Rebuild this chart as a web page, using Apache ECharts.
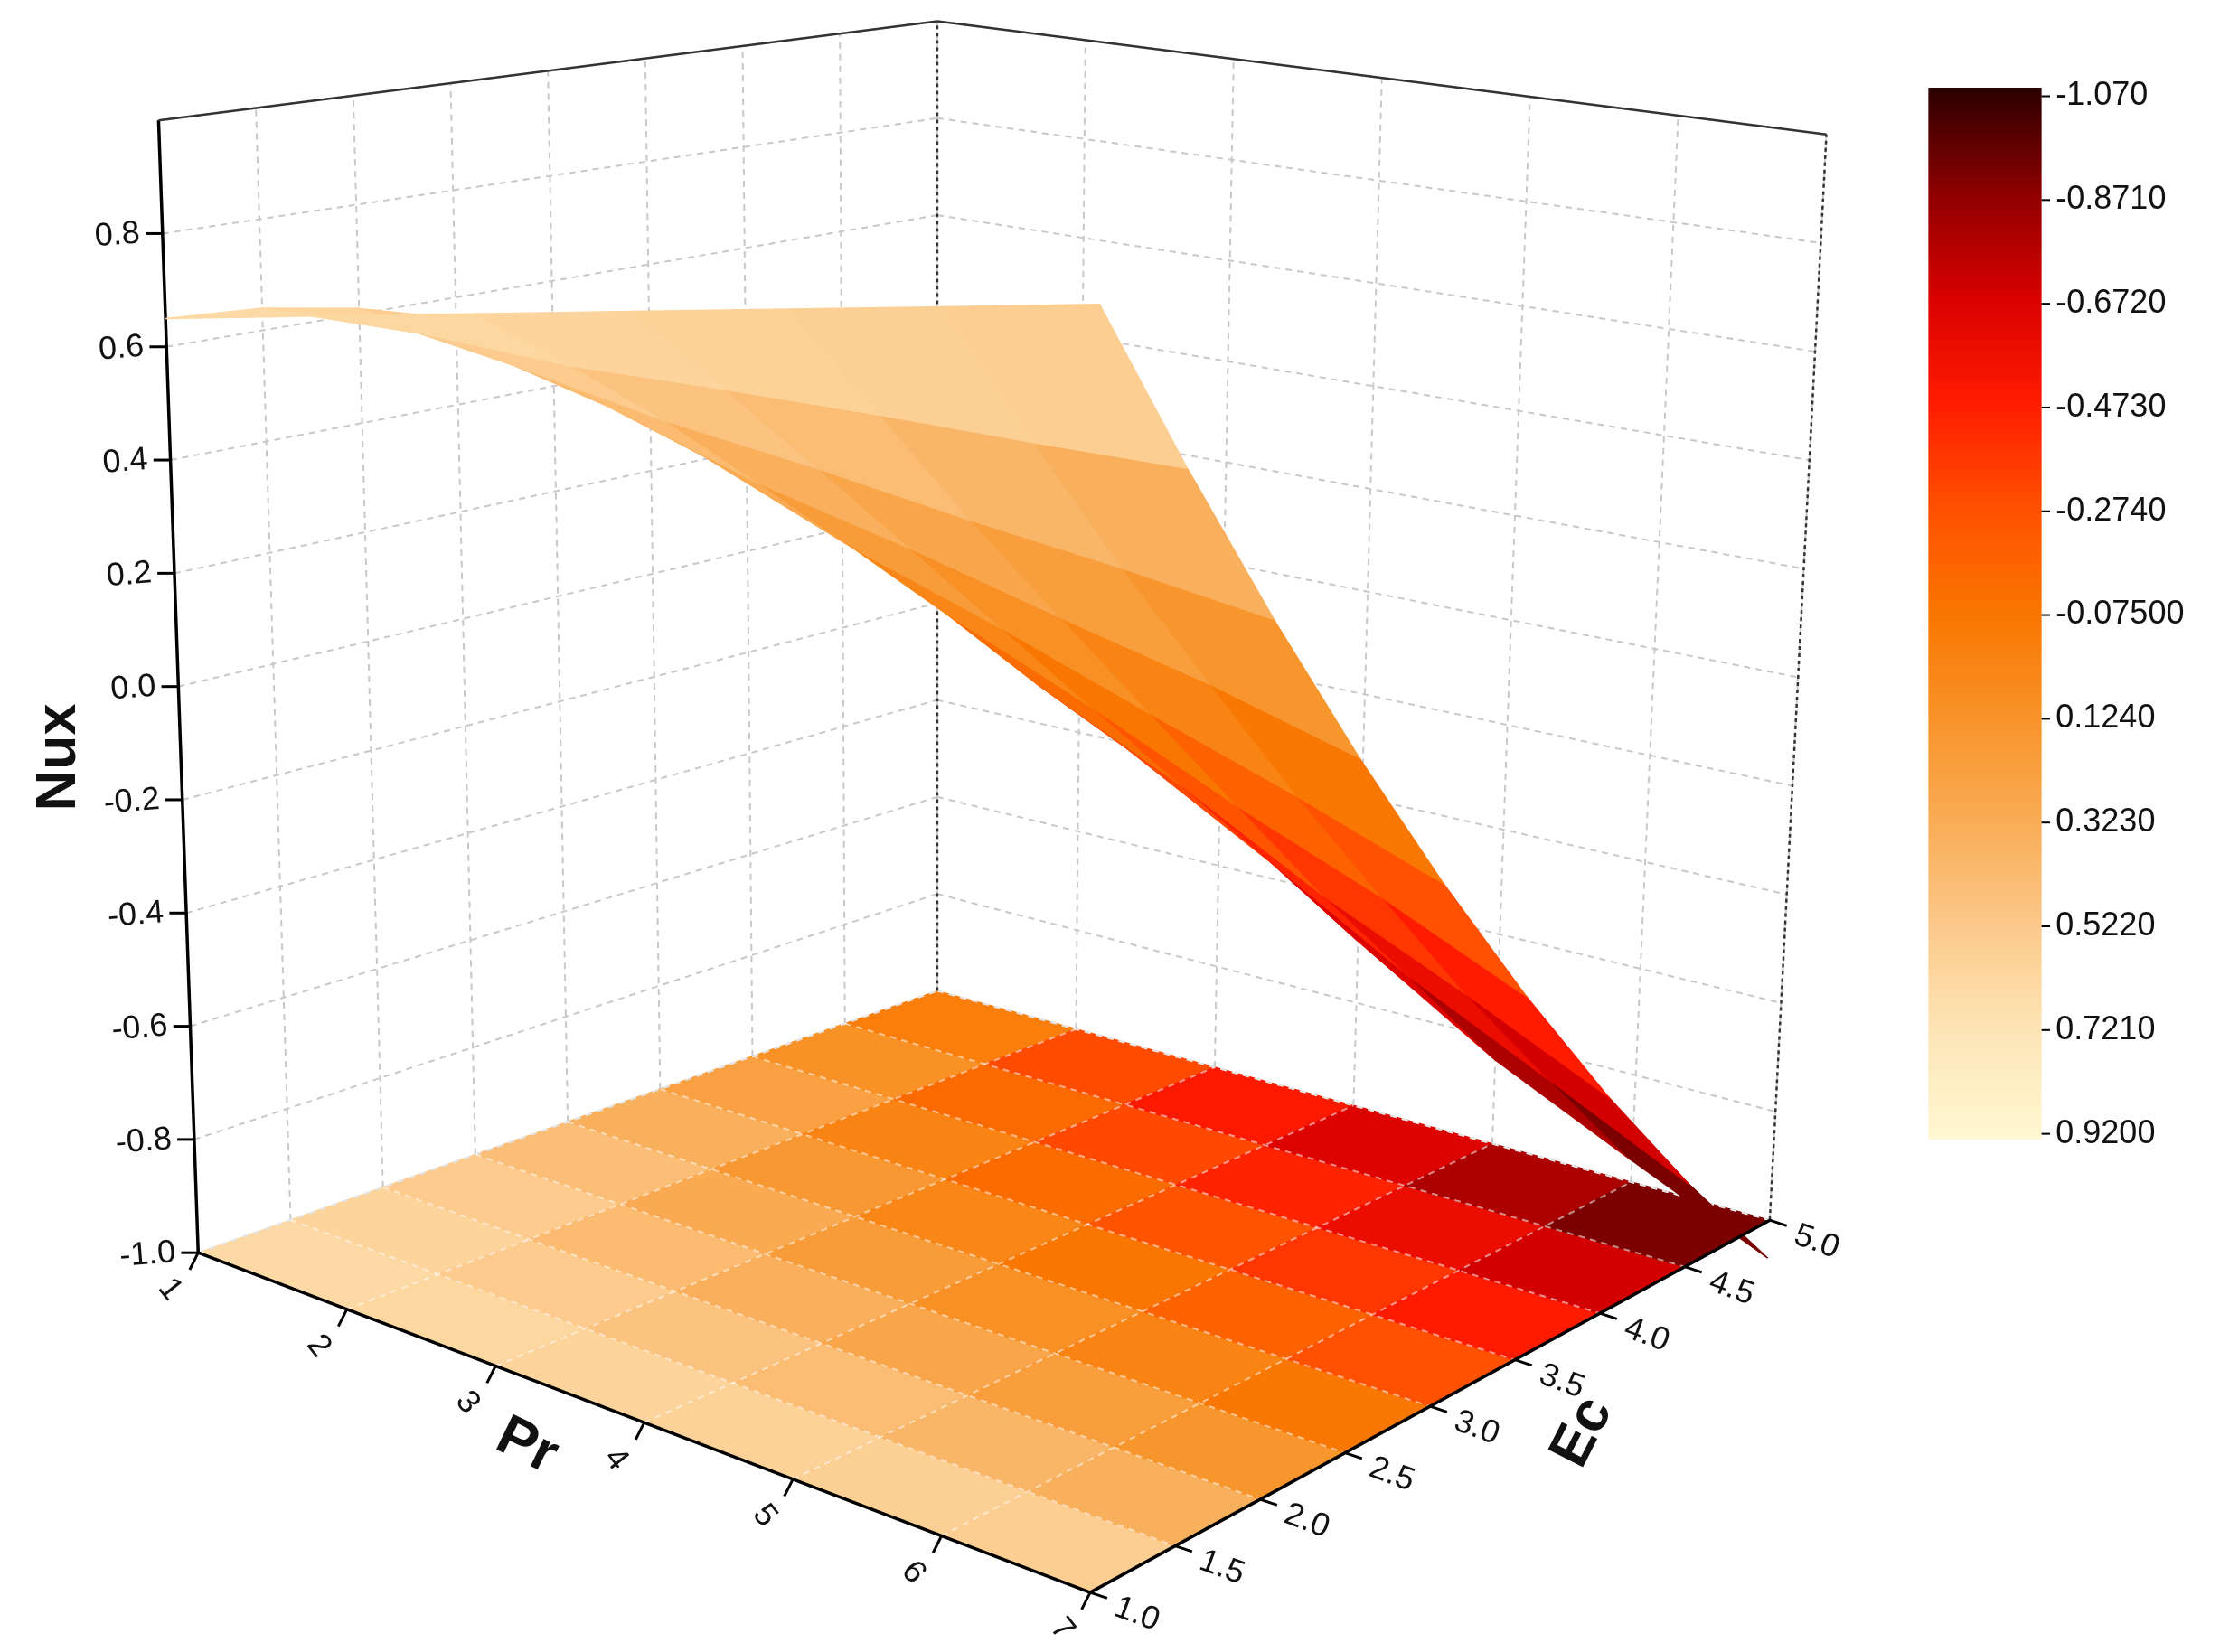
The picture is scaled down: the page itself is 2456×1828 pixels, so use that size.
<!DOCTYPE html>
<html><head><meta charset="utf-8">
<script src="https://cdn.jsdelivr.net/npm/echarts@6/dist/echarts.min.js"></script>
<style>html,body{margin:0;background:#fff}#c{width:2456px;height:1828px}</style>
</head><body><div id="c"></div>
<script>
const PR=[1,2,3,4,5,6,7];
const EC=[1.0,1.5,2.0,2.5,3.0,3.5,4.0,4.5,5.0];
const NUX=[
 [0.65,0.64,0.61,0.56,0.49,0.41,0.31,0.20,0.08],
 [0.65,0.60,0.52,0.42,0.30,0.17,0.03,-0.11,-0.25],
 [0.65,0.55,0.44,0.31,0.17,0.02,-0.15,-0.32,-0.50],
 [0.65,0.52,0.38,0.23,0.07,-0.10,-0.28,-0.47,-0.68],
 [0.65,0.49,0.32,0.15,-0.03,-0.22,-0.42,-0.62,-0.84],
 [0.65,0.46,0.27,0.08,-0.12,-0.32,-0.53,-0.74,-0.96],
 [0.65,0.435,0.22,0.005,-0.21,-0.425,-0.64,-0.855,-1.07]
];
const Z_TICKS=[-1.0,-0.8,-0.6,-0.4,-0.2,0.0,0.2,0.4,0.6,0.8];
const PR_TICKS=[1,2,3,4,5,6,7];
const EC_TICKS=[1.0,1.5,2.0,2.5,3.0,3.5,4.0,4.5,5.0];
const CB_LABELS=['-1.070','-0.8710','-0.6720','-0.4730','-0.2740','-0.07500','0.1240','0.3230','0.5220','0.7210','0.9200'];
const CB_COLORS=['#2b0000','#8e0000','#d90000','#ff1c00','#ff5000','#f97600','#f89329','#f9ad57','#fcca8c','#fde6b8','#fff8d2'];
const VMIN=-1.07,VMAX=0.92;
const S=2456/1568;

const CORN={L:[[140,885],[112,85]],F:[[770,1125],[778,22]],B:[[662,700],[662,15]],R:[[1250,862],[1290,95]]};
function lerp(a,b,t){return [a[0]+(b[0]-a[0])*t,a[1]+(b[1]-a[1])*t];}
function P(pr,ec,z){
  const u=(pr-1)/6,v=(ec-1)/4,w=(z+1)/2;
  const f=lerp(lerp(CORN.L[0],CORN.F[0],u),lerp(CORN.B[0],CORN.R[0],u),v);
  const t=lerp(lerp(CORN.L[1],CORN.F[1],u),lerp(CORN.B[1],CORN.R[1],u),v);
  return lerp(f,t,w);
}
function hex(h){return [parseInt(h.slice(1,3),16),parseInt(h.slice(3,5),16),parseInt(h.slice(5,7),16)];}
function col(v){
  let t=(VMAX-v)/(VMAX-VMIN)*(CB_COLORS.length-1);
  t=Math.max(0,Math.min(CB_COLORS.length-1-1e-6,t));
  const i=Math.floor(t),f=t-i;
  const a=hex(CB_COLORS[CB_COLORS.length-1-i]),b=hex(CB_COLORS[CB_COLORS.length-2-i]);
  return 'rgb('+a.map((x,k)=>Math.round(x+(b[k]-x)*f)).join(',')+')';
}
const items=[];
for(let i=0;i<PR.length-1;i++)for(let j=0;j<EC.length-1;j++){
  const v=(NUX[i][j]+NUX[i+1][j]+NUX[i][j+1]+NUX[i+1][j+1])/4;
  items.push({t:'poly',pts:[[PR[i],EC[j],-1],[PR[i+1],EC[j],-1],[PR[i+1],EC[j+1],-1],[PR[i],EC[j+1],-1]],fill:col(v)});
}
const G={stroke:'#c8c8c8',lineWidth:2,lineDash:[7,6]};
const GW={stroke:'rgba(255,255,255,0.55)',lineWidth:2,lineDash:[7,6]};
Z_TICKS.concat([1.0]).forEach(z=>{items.push({t:'line',pts:[[1,1,z],[1,5,z]],s:G});items.push({t:'line',pts:[[1,5,z],[7,5,z]],s:G});});
EC_TICKS.forEach(e=>{items.push({t:'line',pts:[[1,e,-1],[1,e,1]],s:G});items.push({t:'line',pts:[[1,e,-1],[7,e,-1]],s:GW});});
PR_TICKS.forEach(p=>{items.push({t:'line',pts:[[p,5,-1],[p,5,1]],s:G});items.push({t:'line',pts:[[p,1,-1],[p,5,-1]],s:GW});});
const K={stroke:'#000',lineWidth:3.5};
const KD={stroke:'#333',lineWidth:2.5,lineDash:[4,4]};
items.push({t:'line',pts:[[1,1,-1],[1,1,1]],s:K});
items.push({t:'line',pts:[[1,1,1],[1,5,1]],s:{stroke:'#333',lineWidth:2.5}});
items.push({t:'line',pts:[[1,5,1],[7,5,1]],s:{stroke:'#333',lineWidth:2.5}});
items.push({t:'line',pts:[[1,5,-1],[1,5,1]],s:KD});
items.push({t:'line',pts:[[7,5,-1],[7,5,1]],s:KD});
const cells=[];
for(let i=0;i<PR.length-1;i++)for(let j=0;j<EC.length-1;j++)cells.push([i,j]);
cells.sort((a,b)=>(a[0]-a[1])-(b[0]-b[1]));
cells.forEach(([i,j])=>{
  const v=(NUX[i][j]+NUX[i+1][j]+NUX[i][j+1]+NUX[i+1][j+1])/4;
  items.push({t:'poly',pts:[[PR[i],EC[j],NUX[i][j]],[PR[i+1],EC[j],NUX[i+1][j]],[PR[i+1],EC[j+1],NUX[i+1][j+1]],[PR[i],EC[j+1],NUX[i][j+1]]],fill:col(v)});
});
items.push({t:'line',pts:[[1,1,-1],[7,1,-1]],s:K});
items.push({t:'line',pts:[[7,1,-1],[7,5,-1]],s:K});
const LF=Math.round(23*S)+'px Arial';
Z_TICKS.forEach(z=>{items.push({t:'tick',pts:[[1,1,z]],dx:-12,dy:0});items.push({t:'text',pts:[[1,1,z]],txt:z.toFixed(1),dx:-16,dy:0,align:'right',rot:0.08});});
PR_TICKS.forEach(p=>{items.push({t:'tick',pts:[[p,1,-1]],dx:-6,dy:12});items.push({t:'text',pts:[[p,1,-1]],txt:String(p),dx:-20,dy:26,align:'center',rot:-0.9});});
EC_TICKS.forEach(e=>{items.push({t:'tick',pts:[[7,e,-1]],dx:12,dy:4});items.push({t:'text',pts:[[7,e,-1]],txt:e.toFixed(1),dx:18,dy:10,align:'left',rot:-0.35});});

const chart=echarts.init(document.getElementById('c'));
chart.setOption({
  animation:false,
  grid:{left:0,right:0,top:0,bottom:0},
  xAxis:{type:'value',min:0,max:1568,show:false},
  yAxis:{type:'value',min:0,max:1828/S,inverse:true,show:false},
  series:[{type:'custom',coordinateSystem:'cartesian2d',data:items.map((_,k)=>[k]),
    renderItem:function(params,api){
      const it=items[api.value(0)];
      const pts=it.pts.map(q=>api.coord(P(q[0],q[1],q[2])));
      if(it.t==='poly')return {type:'polygon',shape:{points:pts},style:{fill:it.fill,stroke:it.fill,lineWidth:1.5}};
      if(it.t==='line')return {type:'line',shape:{x1:pts[0][0],y1:pts[0][1],x2:pts[1][0],y2:pts[1][1]},style:it.s};
      if(it.t==='tick')return {type:'line',shape:{x1:pts[0][0],y1:pts[0][1],x2:pts[0][0]+it.dx*S,y2:pts[0][1]+it.dy*S},style:{stroke:'#000',lineWidth:3}};
      return {type:'text',x:pts[0][0]+it.dx*S,y:pts[0][1]+it.dy*S,rotation:it.rot,style:{text:it.txt,font:LF,fill:'#111',align:it.align,verticalAlign:'middle'}};
    }}],
  graphic:[
    {type:'rect',shape:{x:1362*S,y:62*S,width:80*S,height:743*S},style:{fill:new echarts.graphic.LinearGradient(0,0,0,1,CB_COLORS.map((c,k)=>({offset:k/(CB_COLORS.length-1),color:c})))}},
    ...CB_LABELS.map((t,k)=>({type:'text',x:1452*S,y:(68+k*73.3)*S,style:{text:t,font:LF,fill:'#111',verticalAlign:'middle'}})),
    ...CB_LABELS.map((t,k)=>({type:'line',shape:{x1:1442*S,y1:(68+k*73.3)*S,x2:1448*S,y2:(68+k*73.3)*S},style:{stroke:'#000',lineWidth:2}})),
    {type:'text',x:42*S,y:535*S,rotation:Math.PI/2,style:{text:'Nux',font:'bold '+Math.round(40*S)+'px Arial',fill:'#111',align:'center',verticalAlign:'middle'}},
    {type:'text',x:372*S,y:1022*S,rotation:-0.45,style:{text:'Pr',font:'bold '+Math.round(40*S)+'px Arial',fill:'#111',align:'center',verticalAlign:'middle'}},
    {type:'text',x:1118*S,y:1012*S,rotation:1.1,style:{text:'Ec',font:'bold '+Math.round(40*S)+'px Arial',fill:'#111',align:'center',verticalAlign:'middle'}}
  ]
});
</script></body></html>
